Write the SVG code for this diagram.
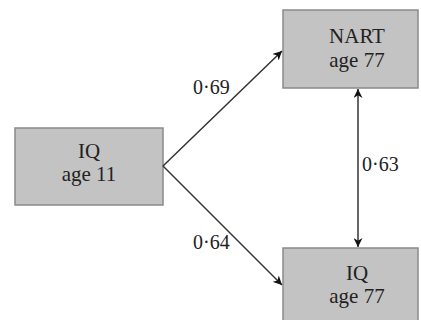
<svg xmlns="http://www.w3.org/2000/svg" width="421" height="320" viewBox="0 0 421 320">
<style>
.box{fill:#c3c3c3;stroke:#8a8a8a;stroke-width:1.5}
.t{font-family:"Liberation Serif",serif;font-size:21px;fill:#222;text-anchor:middle}
.l{font-family:"Liberation Serif",serif;font-size:20px;fill:#222}
.c{stroke:#333;stroke-width:1.5;fill:none}
</style>
<defs>
<marker id="ah" viewBox="0 0 10 10" refX="10" refY="5" markerWidth="9" markerHeight="9" markerUnits="userSpaceOnUse" orient="auto-start-reverse">
<path d="M0,0 L10,5 L0,10 L3,5 z" fill="#111"/>
</marker>
</defs>
<rect width="421" height="320" fill="#fff"/>
<g id="iq11">
<rect class="box" x="15" y="128" width="148" height="77"/>
<text class="t" x="89" y="158">IQ</text>
<text class="t" x="89" y="181">age 11</text>
</g>
<g id="nart77">
<rect class="box" x="283" y="10" width="135" height="78"/>
<text class="t" x="357" y="43">NART</text>
<text class="t" x="357" y="67">age 77</text>
</g>
<g id="iq77">
<rect class="box" x="283" y="248" width="135" height="80"/>
<text class="t" x="357" y="280">IQ</text>
<text class="t" x="357" y="303">age 77</text>
</g>
<g id="connectors">
<line class="c" x1="163" y1="166" x2="282" y2="51" marker-end="url(#ah)"/>
<line class="c" x1="163" y1="166" x2="282" y2="285" marker-end="url(#ah)"/>
<line class="c" x1="358" y1="89" x2="358" y2="247" marker-start="url(#ah)" marker-end="url(#ah)"/>
<text class="l" x="193" y="94">0·69</text>
<text class="l" x="193" y="249">0·64</text>
<text class="l" x="362" y="171">0·63</text>
</g>
</svg>
